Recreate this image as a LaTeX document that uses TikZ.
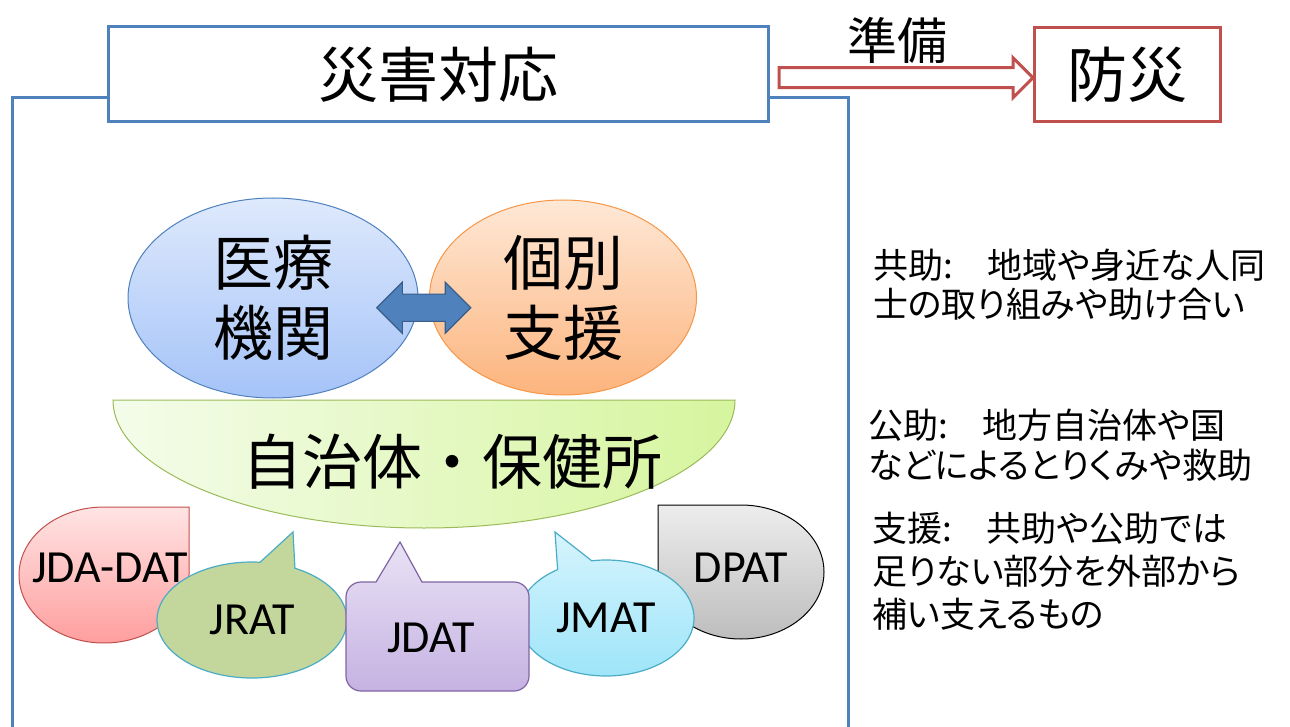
\documentclass[tikz,border=0pt]{standalone}
\usepackage{fontspec}
\setmainfont{Noto Sans CJK JP}
\newfontfamily\notefont{Noto Sans CJK JP}[CharacterWidth=AlternateProportional]
\newfontfamily\latinfont{Carlito}
\usetikzlibrary{shapes.geometric,shapes.arrows,shapes.callouts,calc}
\definecolor{frameblue}{HTML}{4F81BD}
\definecolor{darkblue}{HTML}{385D8A}
\definecolor{prepred}{HTML}{C0504D}
\definecolor{orangeline}{HTML}{F79646}
\definecolor{greenline}{HTML}{9BBB59}
\definecolor{tealline}{HTML}{4BACC6}
\definecolor{purpleline}{HTML}{8064A2}
\begin{document}
\begin{tikzpicture}[x=1pt,y=1pt,
    big/.style={font=\fontsize{60}{70}\selectfont, align=center, inner sep=0pt},
    team/.style={font=\latinfont\fontsize{46}{46}\selectfont, inner sep=0pt},
    note/.style={anchor=west, align=left, inner sep=0pt}]
  \useasboundingbox (0,0) rectangle (1290,-727);
  % frame and title
  \node[big, draw=frameblue, line width=3pt, minimum width=660, minimum height=95] (resp) at (438,-74.5) {災害対応};
  \coordinate (ftop) at (0,-98);
  \draw[frameblue, line width=3pt] (resp.west |- ftop) -- (12,-98) -- (12,-740);
  \draw[frameblue, line width=3pt] (resp.east |- ftop) -- (848,-98) -- (848,-740);
  \node[big, draw=prepred, line width=3pt, minimum width=186, minimum height=94] (prev) at (1127,-75) {防災};
  \node[single arrow, draw=prepred, fill=white, line width=3pt, minimum height=254,
    single arrow head extend=10, inner sep=0pt] (prep) at ($(resp.east)!0.5!(prev.west)+(0,-3)$) {\rule{0pt}{17pt}};
  \node[font=\fontsize{50}{50}\selectfont, inner sep=0pt] (prepl) at (897,-40) {準備};
  % medical and individual support
  \node[big, ellipse, draw=frameblue, line width=1pt, top color={rgb,255:red,222;green,233;blue,252}, bottom color={rgb,255:red,165;green,195;blue,248},
    minimum width=290, minimum height=200] (med) at (273,-298) {医療\\機関};
  \node[big, ellipse, draw=orangeline, line width=1pt, top color={rgb,255:red,254;green,232;blue,214}, bottom color={rgb,255:red,252;green,180;blue,125},
    minimum width=267, minimum height=195] (ind) at (563,-297.5) {個別\\支援};
  \node[double arrow, fill=frameblue, draw=darkblue, line width=1.2pt, minimum height=94,
    double arrow head extend=12, inner sep=0pt] (link) at ($(med.east)!0.5!(ind.west)+(0,-10)$) {\rule{0pt}{26pt}};
  % local government
  \draw[greenline, line width=1pt, left color={rgb,255:red,244;green,252;blue,234}, right color={rgb,255:red,214;green,245;blue,158}]
    (113,-400) -- (735,-400) arc (0:-180:311 and 128) -- cycle;
  \node[big] (gov) at (452,-462) {自治体・保健所};
  % teams
  \draw[prepred, line width=1pt, top color={rgb,255:red,255;green,228;blue,228}, bottom color={rgb,255:red,255;green,158;blue,158}]
    (104,-507) -- (189,-507) -- (189,-575) arc (0:-270:85 and 68) -- cycle;
  \node[team] (jdadat) at (110,-568) {JDA-DAT};
  \draw[black, line width=1pt, top color={rgb,255:red,237;green,237;blue,237}, bottom color={rgb,255:red,189;green,189;blue,189}]
    (741,-505) -- (658,-505) -- (658,-572) arc (180:450:83 and 67) -- cycle;
  \node[team] (dpat) at (741,-568) {DPAT};
  \node[team, ellipse callout, draw=tealline, line width=1.2pt, fill={rgb,255:red,195;green,214;blue,155},
    minimum width=190, minimum height=116, callout absolute pointer={(293,-532)}, callout pointer arc=22] (jrat) at (252,-620) {JRAT};
  \node[team, ellipse callout, draw=tealline, line width=1.2pt, top color={rgb,255:red,214;green,244;blue,253}, bottom color={rgb,255:red,155;green,228;blue,249},
    minimum width=176, minimum height=116, callout absolute pointer={(555,-532)}, callout pointer arc=24] (jmat) at (606,-618) {JMAT};
  \draw[purpleline, line width=1.2pt, top color={rgb,255:red,232;green,226;blue,245}, bottom color={rgb,255:red,198;green,178;blue,226}]
    (346,-640) [rounded corners=15pt] -- (346,-582) [sharp corners] -- (376,-582) -- (400,-542) -- (422,-582)
    [rounded corners=15pt] -- (529,-582) -- (529,-691) -- (346,-691) -- cycle;
  \node[team] (jdat) at (431,-638) {JDAT};
  % notes
  \node[note, font=\notefont\fontsize{35}{39}\selectfont] (kyojo) at (873,-284.5) {共助:　地域や身近な人同\\士の取り組みや助け合い};
  \node[note, font=\notefont\fontsize{35}{40}\selectfont] (kojo) at (868,-445) {公助:　地方自治体や国\\などによるとりくみや救助};
  \node[note, font=\notefont\fontsize{35}{43}\selectfont] (shien) at (872,-571) {支援:　共助や公助では\\足りない部分を外部から\\補い支えるもの};
\end{tikzpicture}
\end{document}
